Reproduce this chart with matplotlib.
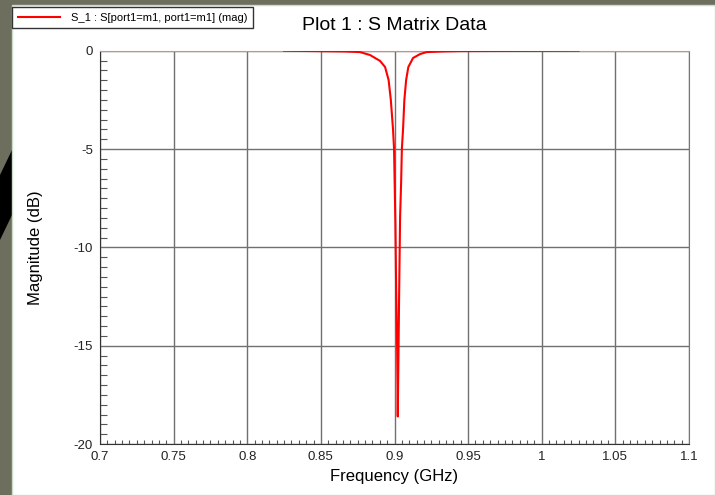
import matplotlib
matplotlib.use("Agg")
import matplotlib.pyplot as plt
from matplotlib.patches import Rectangle, Polygon
from matplotlib.ticker import MultipleLocator, FixedLocator

plt.rcParams['font.family'] = ['Liberation Sans Narrow', 'Liberation Sans', 'DejaVu Sans']
plt.rcParams['axes.unicode_minus'] = False

# S11 magnitude
freq_ghz = [0.825, 0.8664, 0.8766, 0.8834, 0.8902, 0.8936, 0.8960, 0.8975,
            0.8990, 0.8997, 0.9006, 0.9011, 0.9018, 0.9022, 0.9026, 0.9031,
            0.9038, 0.9045, 0.9050, 0.9058, 0.9067, 0.9079, 0.9094, 0.9126,
            0.9174, 0.9219, 0.9323, 0.9446, 1.025]
mag_db = [0.0, -0.04, -0.07, -0.22, -0.52, -0.83, -1.49, -2.5,
          -4.0, -5.0, -8.76, -12.0, -15.2, -18.6, -16.1, -12.7,
          -8.45, -6.7, -5.0, -4.0, -2.5, -1.49, -0.83, -0.37,
          -0.17, -0.07, -0.04, -0.02, 0.0]

xticks = [0.7, 0.75, 0.8, 0.85, 0.9, 0.95, 1.0, 1.05, 1.1]
xticklabels = ["0.7", "0.75", "0.8", "0.85", "0.9", "0.95", "1", "1.05", "1.1"]
yticks = [0, -5, -10, -15, -20]
yticklabels = ["0", "-5", "-10", "-15", "-20"]

W, H = 715, 495
fig = plt.figure(figsize=(W / 100, H / 100), dpi=100)
fig.patch.set_facecolor('#6e6e5e')

# desktop-ish backdrop and white plot window
fig.patches.append(Polygon([(0, 1 - 175 / H), (12 / W, 1 - 150 / H),
                            (12 / W, 1 - 215 / H), (0, 1 - 240 / H)],
                           closed=True, transform=fig.transFigure,
                           facecolor='black', edgecolor='none', zorder=-2))
fig.patches.append(Rectangle((12 / W, 0), 1 - 12 / W, 1 - 5 / H,
                             transform=fig.transFigure, facecolor='white',
                             edgecolor='#c8dcc8', lw=1, zorder=-1))

ax = fig.add_axes([100 / W, 1 - 444 / H, 589 / W, 393.3 / H])
ax.set_facecolor('white')

ax.plot(freq_ghz, mag_db, color='#ff0000', lw=1.5, label='S_1 : S[port1=m1, port1=m1] (mag)', zorder=3)

ax.set_xlim(0.7, 1.1)
ax.set_ylim(-20, 0)
ax.xaxis.set_major_locator(FixedLocator(xticks))
ax.set_xticklabels(xticklabels)
ax.yaxis.set_major_locator(FixedLocator(yticks))
ax.set_yticklabels(yticklabels)
ax.xaxis.set_minor_locator(MultipleLocator(0.005))
ax.yaxis.set_minor_locator(MultipleLocator(0.5))

ax.grid(True, which='major', color='#707070', lw=1)
ax.tick_params(which='major', length=0, pad=5, labelsize=9.5, colors='#222222')
ax.tick_params(which='minor', direction='in', color='#555555', width=0.8)
ax.tick_params(axis='x', which='minor', length=3)
ax.tick_params(axis='y', which='minor', length=5)

for side in ['left', 'bottom']:
    ax.spines[side].set_color('#333333')
ax.spines['right'].set_color('#777777')
ax.spines['top'].set_color('#f08080')

ax.set_xlabel('Frequency (GHz)', fontsize=12, labelpad=4)
ax.set_ylabel('Magnitude (dB)', fontsize=12, labelpad=22)
fig.text(394 / W, 1 - 26 / H, 'Plot 1 : S Matrix Data', fontsize=14,
         ha='center', va='center')

fig.legend(loc='upper left', bbox_to_anchor=(12 / W, 1 - 7 / H), fontsize=8,
           fancybox=False, edgecolor='#333333', framealpha=1, borderpad=0.5,
           handlelength=3.8, handletextpad=1.0, borderaxespad=0)

fig.savefig('out.png', dpi=100, facecolor=fig.get_facecolor())
